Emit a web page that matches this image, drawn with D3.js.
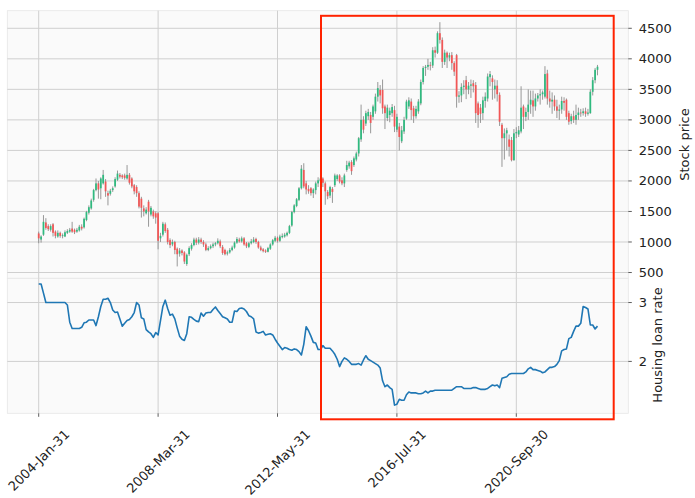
<!DOCTYPE html>
<html><head><meta charset="utf-8">
<script src="https://cdn.jsdelivr.net/npm/d3@7"></script>
<style>
body{margin:0;background:#fff}
svg{display:block}
text{font-family:"DejaVu Sans",sans-serif;fill:#222}
</style>
</head><body>
<svg id="chart" width="695" height="498"></svg>
<script>
// ---- data: monthly bars, 2004-Jan-31 onward ----
const opens = [1140,1040,1120,1320,1260,1200,1290,1170,1090,1150,1100,1090,1150,1170,1220,1200,1170,1190,1250,1240,
1360,1480,1550,1690,1850,1960,1880,1960,1990,1800,1790,1850,1910,2020,2100,2090,2090,2040,2100,2040,
1930,1900,1800,1710,1550,1470,1660,1450,1500,1470,1470,1060,1120,1290,1200,1030,960,1000,890,810,
860,830,640,800,890,950,1040,990,1040,1000,960,870,900,930,960,980,1010,920,870,810,
830,870,910,990,1040,1010,1060,980,920,980,1000,1050,1000,910,880,860,840,890,960,1020,
1070,1020,1080,1090,1110,1150,1270,1490,1590,1690,1880,2180,1960,1870,1880,1800,1850,1960,2000,2040,
1960,1820,1760,1870,1930,2030,2090,2010,1960,2180,2240,2310,2260,2350,2450,2680,3000,2940,3060,3080,
3050,3140,3380,3490,3490,3220,3030,3080,3110,3160,2840,2890,2650,2810,3020,3220,3300,3190,3060,3140,
3270,3620,3850,3870,3900,3890,4140,4100,4420,4310,3950,4100,4020,4060,3930,4060,3380,3400,3540,3650,
3500,3560,3600,3570,3270,3200,3110,3310,3350,3700,3680,3500,3560,3410,2920,2700,2780,2680,2670,2340,
2780,2760,2810,3220,3050,3130,3250,3320,3220,3350,3400,3420,3380,3760,3350,3300,3330,3220,3150,3170,
3310,3330,3110,2980,3060,3000,3080,3120,3110,3140,3100,3110,3460,3650,3820];
const highs = [1170,1110,1440,1390,1290,1290,1310,1190,1190,1170,1140,1190,1210,1230,1330,1220,1230,1280,1290,1400,
1510,1600,1710,1870,2040,2000,2060,2180,2030,1840,1870,1910,2060,2170,2130,2110,2120,2260,2130,2060,
1950,1930,1830,1740,1600,1570,1690,1590,1530,1500,1490,1150,1330,1320,1230,1060,1040,1020,910,900,
880,850,810,930,980,1070,1070,1080,1070,1030,990,930,960,990,1000,1060,1040,950,890,860,
900,940,1010,1080,1070,1090,1080,1000,1000,1050,1080,1070,1020,940,900,880,920,980,1050,1100,
1090,1120,1140,1150,1170,1280,1510,1620,1720,1900,2260,2290,2000,1930,1900,1880,1990,2060,2080,2060,
1990,1850,1920,1900,2120,2110,2110,2060,2120,2330,2330,2340,2400,2480,2720,3250,3060,3150,3180,3130,
3250,3430,3620,3570,3660,3250,3250,3200,3260,3230,3100,2950,2900,3050,3330,3370,3350,3230,3230,3340,
3660,3880,3900,4000,3950,4190,4200,4450,4600,4350,4150,4120,4100,4110,3960,4080,3470,3600,3650,3720,
3620,3660,3650,3620,3300,3260,3380,3450,3760,3800,3730,3660,3650,3450,2950,2860,2870,2760,2720,2850,
2880,2900,3550,3250,3200,3500,3480,3480,3430,3440,3500,3480,3880,3820,3480,3450,3400,3330,3250,3380,
3370,3350,3150,3100,3150,3250,3200,3180,3190,3200,3180,3500,3700,3850,3900];
const lows = [980,990,1100,1200,1180,1170,1090,1060,1070,1070,1060,1080,1130,1150,1150,1130,1150,1170,1190,1220,
1340,1450,1530,1660,1830,1710,1700,1940,1740,1600,1760,1820,1890,2000,2040,2030,2020,2020,1940,1880,
1780,1740,1550,1400,1420,1450,1250,1420,1380,1300,880,1000,1090,1150,960,900,930,800,600,760,
780,640,610,770,860,930,950,960,970,920,850,850,880,900,930,960,900,790,780,780,
810,850,890,970,990,990,940,900,900,960,980,970,890,850,830,820,830,870,940,1000,
990,1000,1060,1070,1090,1130,1250,1470,1570,1670,1860,1880,1780,1790,1760,1720,1780,1900,1960,1900,
1610,1700,1720,1640,1900,2000,1960,1930,1900,2150,2200,2100,2230,2320,2400,2640,2780,2900,3000,2780,
3000,3100,3300,3270,3100,2850,2980,2960,3050,2800,2800,2500,2620,2770,3000,3180,3000,2950,3020,3100,
3240,3580,3720,3820,3810,3850,4020,4080,4250,3850,3900,3850,3960,3820,3720,3200,3280,3290,3420,3340,
3420,3360,3450,2950,2870,2950,3000,3200,3300,3550,3330,3350,3300,2900,2230,2350,2500,2400,2320,2330,
2700,2720,2780,2850,2980,3000,3100,3050,3150,3300,3250,3330,3350,3250,3200,3100,3150,3030,3000,3100,
3150,3000,2920,2930,2950,2920,3000,3050,3070,3050,3070,3100,3400,3600,3730];
const closes = [1060,1090,1330,1230,1210,1260,1150,1100,1150,1100,1110,1160,1180,1200,1170,1160,1200,1250,1220,1380,
1490,1570,1680,1850,1960,1860,2040,2100,1830,1760,1840,1880,2030,2120,2070,2060,2050,2100,1970,1910,
1830,1800,1580,1560,1500,1530,1500,1560,1420,1400,1020,1100,1300,1180,1000,950,1000,870,800,860,
820,680,790,900,950,1040,990,1040,1000,960,870,900,930,960,980,1020,930,820,800,830,
870,910,990,1050,1010,1060,960,930,980,1010,1040,1000,910,870,850,840,900,960,1030,1070,
1020,1090,1100,1120,1150,1260,1490,1600,1700,1880,2200,1910,1860,1830,1800,1860,1960,2010,2040,1970,
1830,1750,1900,1820,2090,2090,1990,1960,2090,2260,2300,2160,2370,2450,2700,3000,2840,3110,3130,2950,
3220,3380,3520,3400,3190,3110,3200,3150,3210,2890,3050,2720,2830,3000,3300,3320,3160,3060,3180,3300,
3620,3850,3870,3900,3890,4140,4100,4420,4310,3950,4100,4020,4060,3930,3790,3380,3400,3540,3560,3500,
3560,3580,3550,3110,3080,3100,3320,3380,3710,3750,3620,3560,3420,2970,2700,2780,2830,2560,2340,2780,
2800,2830,3200,3050,3130,3250,3330,3220,3350,3400,3420,3450,3750,3350,3300,3330,3220,3150,3170,3310,
3280,3050,2970,3060,3000,3080,3120,3110,3140,3100,3120,3460,3650,3820,3870];
const rates = [3.41,3.41,3.20,3.00,3.00,3.00,3.00,3.00,3.00,3.00,3.00,3.00,2.95,2.62,2.51,2.51,2.51,2.51,2.53,2.61,
2.62,2.66,2.66,2.66,2.56,2.72,2.92,3.07,3.07,3.09,3.00,2.85,2.80,2.81,2.68,2.55,2.60,2.65,2.67,2.72,
2.80,3.00,2.95,2.70,2.68,2.49,2.45,2.42,2.36,2.44,2.40,2.65,2.92,3.05,2.88,2.75,2.77,2.68,2.52,2.38,
2.33,2.31,2.42,2.72,2.71,2.67,2.64,2.63,2.79,2.73,2.79,2.80,2.80,2.86,2.91,2.84,2.78,2.72,2.70,2.68,
2.62,2.62,2.83,2.82,2.88,2.89,2.87,2.82,2.74,2.72,2.68,2.45,2.43,2.44,2.46,2.40,2.41,2.42,2.40,2.33,
2.27,2.22,2.17,2.20,2.19,2.17,2.16,2.18,2.17,2.14,2.09,2.25,2.54,2.47,2.38,2.28,2.27,2.17,2.17,2.23,
2.19,2.19,2.19,2.15,2.10,2.03,1.93,2.00,2.05,2.03,2.00,1.96,1.96,1.96,1.97,1.95,2.02,2.08,2.03,2.01,
1.99,1.97,1.95,1.91,1.75,1.68,1.70,1.67,1.65,1.48,1.49,1.54,1.53,1.53,1.59,1.62,1.61,1.61,1.61,1.60,
1.60,1.61,1.63,1.61,1.63,1.63,1.64,1.64,1.64,1.64,1.64,1.64,1.64,1.64,1.66,1.68,1.68,1.68,1.66,1.66,
1.66,1.66,1.67,1.67,1.66,1.65,1.65,1.65,1.66,1.68,1.70,1.69,1.70,1.67,1.78,1.79,1.80,1.83,1.84,1.84,
1.84,1.84,1.84,1.84,1.86,1.90,1.92,1.89,1.89,1.88,1.87,1.85,1.86,1.89,1.92,1.92,1.93,1.96,2.01,2.15,
2.17,2.18,2.34,2.36,2.46,2.55,2.55,2.60,2.92,2.90,2.87,2.57,2.57,2.50,2.55];
const xTickIndex = [0,50,100,150,200];
const xTickLabels = ["2004-Jan-31","2008-Mar-31","2012-May-31","2016-Jul-31","2020-Sep-30"];
const priceTicks = [500,1000,1500,2000,2500,3000,3500,4000,4500];
const rateTicks = [2,3];
const priceLabel = "Stock price";
const rateLabel = "Housing loan rate";

// ---- layout ----
const W = 695, H = 498;
const L = 7.3, R = 628.3;
const topT = 10.7, topB = 278.3, botT = 278.3, botB = 413.3;
const upColor = "#2fba7f", downColor = "#f25656", wickColor = "#8c8c8c";
const gridColor = "#cfcfcf", faceColor = "#fafafa", edgeColor = "#e6e6e6";

const svg = d3.select("#chart");
svg.append("rect").attr("width", W).attr("height", H).attr("fill", "#fff");

const n = closes.length;
const x = d3.scaleLinear().domain([-13.15, n - 1 + 12.9]).range([L, R]);
const yP = d3.scaleLinear().domain([405.5, 4788]).range([topB, topT]);
const yR = d3.scaleLog().domain([1.399, 3.545]).range([botB, botT]);

[[topT, topB], [botT, botB]].forEach(([t, b]) => {
  svg.append("rect").attr("x", L).attr("y", t).attr("width", R - L).attr("height", b - t)
    .attr("fill", faceColor).attr("stroke", edgeColor).attr("stroke-width", 0.8);
});

const grid = svg.append("g").attr("stroke", gridColor).attr("stroke-width", 1);
xTickIndex.forEach(i => {
  grid.append("line").attr("x1", x(i)).attr("x2", x(i)).attr("y1", topT).attr("y2", topB);
  grid.append("line").attr("x1", x(i)).attr("x2", x(i)).attr("y1", botT).attr("y2", botB);
});
priceTicks.forEach(v => grid.append("line").attr("x1", L).attr("x2", R).attr("y1", yP(v)).attr("y2", yP(v)));
rateTicks.forEach(v => grid.append("line").attr("x1", L).attr("x2", R).attr("y1", yR(v)).attr("y2", yR(v)));

const idx = d3.range(n);
const cg = svg.append("g");
cg.selectAll("line.wick").data(idx).join("line").attr("class", "wick")
  .attr("x1", i => x(i)).attr("x2", i => x(i))
  .attr("y1", i => yP(highs[i])).attr("y2", i => yP(lows[i]))
  .attr("stroke", wickColor).attr("stroke-width", 0.9);
const bw = 1.75;
cg.selectAll("rect.body").data(idx).join("rect").attr("class", "body")
  .attr("x", i => x(i) - bw / 2).attr("width", bw)
  .attr("y", i => yP(Math.max(opens[i], closes[i])))
  .attr("height", i => Math.max(0.8, Math.abs(yP(opens[i]) - yP(closes[i]))))
  .attr("fill", i => closes[i] >= opens[i] ? upColor : downColor);

svg.append("path").datum(rates)
  .attr("d", d3.line().x((d, i) => x(i)).y(d => yR(d)))
  .attr("fill", "none").attr("stroke", "#1f77b4").attr("stroke-width", 1.6)
  .attr("stroke-linejoin", "round");

function rightAxis(scale, ticks, fmt) {
  const g = svg.append("g");
  ticks.forEach(v => {
    const y = scale(v);
    g.append("line").attr("x1", R).attr("x2", R + 3.5).attr("y1", y).attr("y2", y)
      .attr("stroke", "#333").attr("stroke-width", 0.8);
    g.append("text").attr("x", R + 10.5).attr("y", y).attr("dy", "0.35em")
      .attr("font-size", 13).text(fmt(v));
  });
}
rightAxis(yP, priceTicks, d => String(d));
rightAxis(yR, rateTicks, d => String(d));

svg.append("text").attr("transform", "translate(689,144.5) rotate(-90)")
  .attr("text-anchor", "middle").attr("font-size", 13).text(priceLabel);
svg.append("text").attr("transform", "translate(662,345) rotate(-90)")
  .attr("text-anchor", "middle").attr("font-size", 13).text(rateLabel);

xTickIndex.forEach((i, k) => {
  const tx = x(i);
  svg.append("line").attr("x1", tx).attr("x2", tx).attr("y1", botB).attr("y2", botB + 3.5)
    .attr("stroke", "#333").attr("stroke-width", 0.8);
  const t = svg.append("text").attr("font-size", 13).attr("text-anchor", "end").text(xTickLabels[k]);
  const len = t.node().getComputedTextLength();
  const capH = 9.5;
  const px = tx + 0.3536 * (len + capH);
  const py = 428.5 + 0.7071 * capH;
  t.attr("transform", `translate(${px},${py}) rotate(-45)`);
});

svg.append("rect").attr("x", 321).attr("y", 15.8).attr("width", 292.7).attr("height", 403.5)
  .attr("fill", "none").attr("stroke", "#ff2200").attr("stroke-width", 2);
</script>
</body></html>
